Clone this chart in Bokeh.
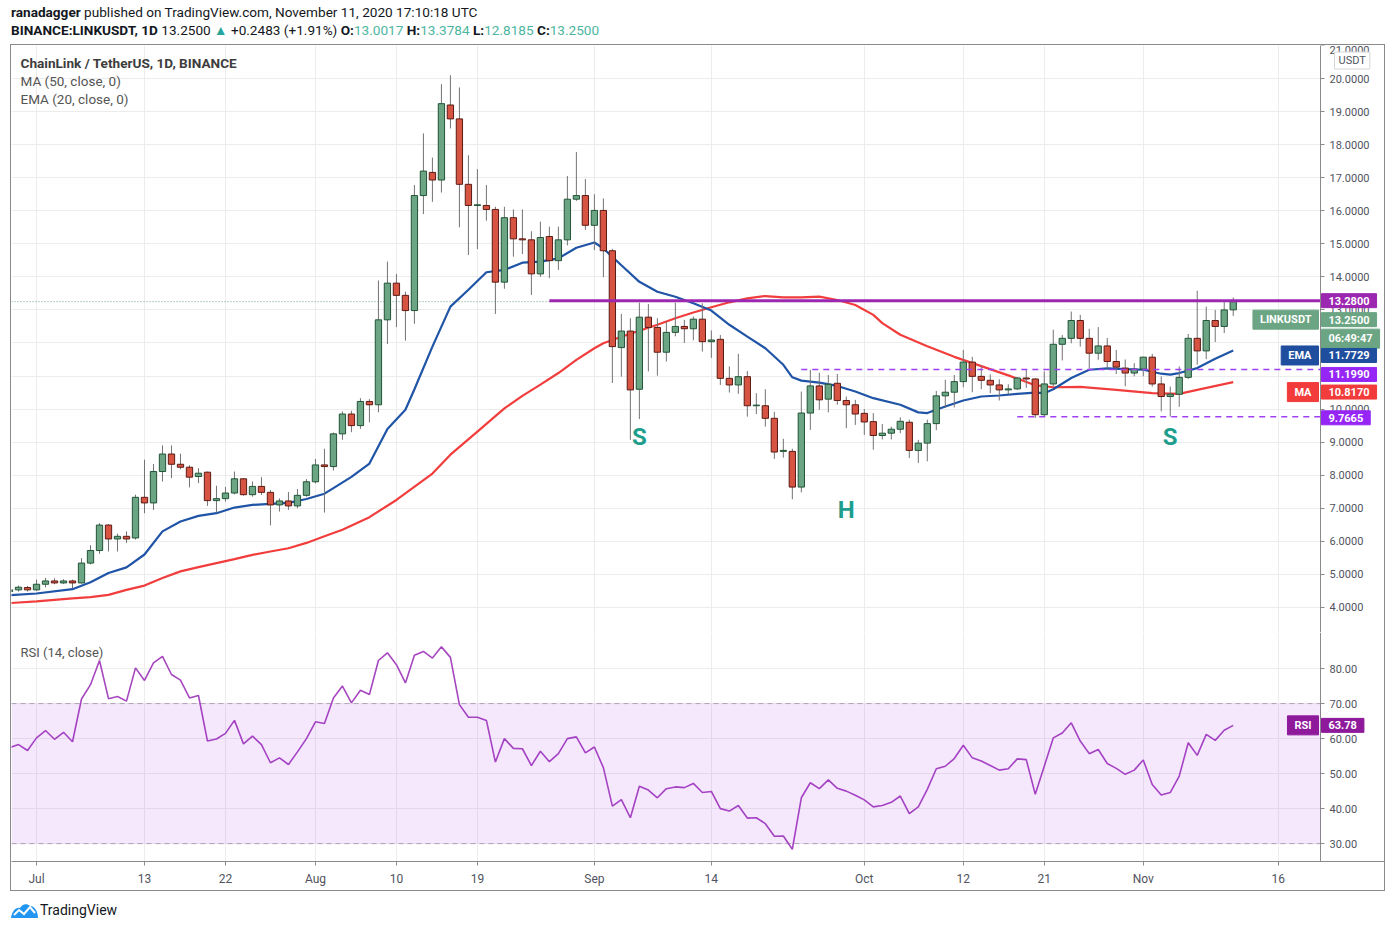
import pandas as pd
from bokeh.plotting import figure
from bokeh.layouts import column
from bokeh.models import (Range1d, FixedTicker, BoxAnnotation, Label, Div, LinearAxis,
                          ColumnDataSource, PrintfTickFormatter, Grid)
from bokeh.core.properties import value
from bokeh.embed import file_html
from bokeh.resources import INLINE

# ---------------- data ----------------
start_date = "2020-06-28"
opens = [
    4.48, 4.53, 4.60,
    4.53, 4.70, 4.80, 4.74, 4.80, 4.74, 5.34, 5.72, 6.49, 6.07, 6.15, 6.10, 7.33, 7.16, 8.11, 8.64,
    8.33, 8.24, 7.96, 8.09, 7.23, 7.29, 7.46, 7.89, 7.41, 7.66, 7.48, 7.10, 7.22, 7.07, 7.39,
    7.80, 8.31, 8.26, 9.25, 9.85, 9.50, 10.23, 10.13, 12.70, 13.81, 13.44, 12.98, 16.46, 17.16, 16.93,
    19.20, 18.78, 16.80, 16.16, 16.16, 16.04, 13.84, 15.79, 15.15, 15.12, 14.09, 15.22, 14.49, 15.12, 16.35, 16.46,
    15.56, 16.01, 14.79, 11.86, 12.36, 10.60, 12.78, 12.47, 11.72, 12.32, 12.50, 12.43, 12.72, 12.04, 12.11,
    10.93, 10.73, 10.98, 10.10, 10.10, 9.72, 8.72, 8.72, 7.64, 9.88, 10.70, 10.30, 10.78, 10.26, 10.13,
    9.87, 9.62, 9.20, 9.27, 9.39, 9.60, 8.75, 8.97, 9.56, 10.40, 10.51, 10.83, 11.42, 10.99, 10.87,
    10.73, 10.58, 10.61, 10.94, 10.91, 9.83, 10.76, 11.96, 12.14, 12.68, 12.14, 11.69, 11.91, 11.44, 11.24, 11.09,
    11.21, 11.57, 10.76, 10.38, 10.45, 10.96, 12.14, 11.76, 12.68, 12.50, 13.0017,
]
highs = [
    4.60, 4.66, 4.65,
    4.84, 4.89, 4.88, 4.85, 4.84, 5.49, 5.88, 6.55, 6.52, 6.23, 6.30, 7.41, 8.47, 8.34, 8.90, 8.90,
    8.65, 8.30, 8.21, 8.11, 7.68, 7.64, 8.11, 7.91, 7.81, 7.94, 7.55, 7.30, 7.49, 7.58, 7.88,
    8.49, 8.80, 9.29, 9.93, 9.95, 10.33, 10.30, 13.89, 14.46, 14.09, 13.55, 16.78, 18.34, 17.61, 19.83,
    20.10, 19.73, 17.68, 17.26, 16.78, 16.12, 16.12, 16.04, 16.04, 15.38, 15.67, 15.52, 15.52, 17.05, 17.78, 16.96,
    16.50, 16.37, 14.85, 12.88, 12.75, 13.22, 13.18, 12.75, 12.65, 13.22, 12.70, 12.80, 13.20, 12.38, 12.24,
    11.29, 11.67, 11.15, 10.48, 10.60, 9.92, 9.10, 8.80, 10.53, 11.19, 11.10, 11.03, 11.06, 10.38, 10.28,
    10.00, 9.88, 9.55, 9.47, 9.75, 9.68, 9.07, 9.68, 10.55, 10.89, 11.03, 11.79, 11.58, 11.32, 11.05,
    10.90, 10.75, 10.97, 11.21, 10.94, 11.14, 12.40, 12.24, 12.95, 12.85, 12.43, 12.48, 12.15, 11.79, 11.50, 11.39,
    11.58, 11.67, 10.99, 10.68, 11.29, 12.27, 13.58, 13.10, 13.00, 13.25, 13.3784,
]
lows = [
    4.40, 4.48, 4.48,
    4.50, 4.61, 4.70, 4.71, 4.58, 4.72, 5.30, 5.62, 5.69, 5.69, 5.95, 6.05, 6.85, 6.95, 7.81, 7.91,
    8.18, 7.63, 7.76, 7.07, 6.87, 7.20, 7.42, 7.38, 7.35, 7.40, 6.48, 6.90, 6.95, 7.00, 7.35,
    7.75, 6.87, 8.14, 9.07, 9.30, 9.40, 9.60, 9.90, 11.97, 12.48, 12.07, 12.58, 15.90, 16.27, 16.55,
    18.49, 15.50, 14.66, 14.84, 15.70, 12.88, 13.64, 14.61, 14.69, 13.45, 14.00, 13.96, 14.21, 14.95, 16.30, 15.42,
    14.81, 13.99, 10.79, 10.98, 9.07, 9.70, 11.14, 11.01, 11.44, 12.20, 12.00, 12.08, 11.74, 11.55, 10.73,
    10.50, 10.46, 9.77, 9.85, 9.47, 8.49, 8.53, 7.27, 7.48, 9.37, 9.98, 9.90, 10.13, 9.42, 9.52,
    9.22, 8.77, 9.08, 9.08, 9.27, 8.52, 8.37, 8.42, 9.36, 10.03, 10.05, 10.66, 10.51, 10.60, 10.48,
    10.26, 10.45, 10.58, 10.64, 9.73, 9.76, 10.70, 11.47, 11.99, 11.89, 11.23, 11.49, 11.21, 11.06, 10.69, 10.99,
    10.99, 10.68, 9.93, 9.77, 10.07, 10.91, 11.34, 11.51, 12.03, 12.30, 12.8185,
]
closes = [
    4.53, 4.61, 4.53,
    4.70, 4.80, 4.74, 4.80, 4.74, 5.34, 5.72, 6.49, 6.07, 6.15, 6.07, 7.33, 7.16, 8.11, 8.64, 8.33,
    8.24, 7.94, 8.06, 7.23, 7.29, 7.46, 7.89, 7.41, 7.66, 7.48, 7.10, 7.22, 7.07, 7.39, 7.80,
    8.31, 8.26, 9.25, 9.85, 9.50, 10.23, 10.13, 12.70, 13.81, 13.44, 12.98, 16.46, 17.20, 16.93, 19.24,
    18.78, 16.80, 16.16, 16.18, 16.04, 13.84, 15.79, 15.15, 15.12, 14.09, 15.19, 14.49, 15.12, 16.35, 16.46, 15.56,
    16.01, 14.79, 11.89, 12.36, 10.58, 12.78, 12.47, 11.72, 12.32, 12.50, 12.43, 12.72, 12.04, 12.09, 10.93,
    10.73, 10.98, 10.10, 10.12, 9.72, 8.70, 8.75, 7.64, 9.88, 10.70, 10.28, 10.75, 10.26, 10.13, 9.85,
    9.61, 9.20, 9.27, 9.39, 9.63, 8.75, 8.97, 9.56, 10.40, 10.51, 10.83, 11.42, 10.99, 10.87, 10.73,
    10.58, 10.61, 10.94, 10.91, 9.83, 10.76, 11.96, 12.14, 12.68, 12.14, 11.69, 11.91, 11.44, 11.27, 11.09, 11.21,
    11.57, 10.76, 10.38, 10.45, 10.96, 12.14, 11.76, 12.68, 12.50, 13.00, 13.25,
]
rsi_values = [
    57.4, 58.3, 56.6,
    60.2, 62.3, 59.8, 61.8, 59.1, 71.3, 75.4, 82.3, 71.4, 72.0, 70.7, 80.2, 76.6, 81.6, 83.5, 78.3,
    76.7, 71.6, 72.3, 59.3, 59.9, 61.5, 65.2, 58.5, 60.7, 58.3, 53.1, 54.5, 52.6, 56.2, 60.0,
    64.8, 64.3, 71.6, 75.0, 70.2, 73.8, 72.6, 82.3, 84.5, 81.1, 75.9, 83.8, 84.9, 83.0, 86.2,
    83.2, 69.7, 66.1, 66.1, 65.2, 53.3, 60.0, 57.2, 57.1, 52.3, 56.4, 53.4, 55.7, 60.0, 60.5, 55.9,
    57.6, 51.7, 40.7, 42.6, 37.4, 46.4, 45.3, 43.1, 45.7, 46.2, 46.0, 47.2, 44.6, 44.9, 40.0,
    39.3, 40.9, 37.3, 37.4, 35.7, 32.1, 32.2, 28.4, 43.1, 47.4, 45.7, 48.2, 45.8, 45.0, 43.8,
    42.5, 40.5, 40.9, 41.8, 43.6, 38.6, 40.5, 45.5, 51.4, 52.1, 54.3, 58.1, 54.5, 53.6, 52.3,
    51.0, 51.4, 54.2, 54.0, 44.1, 52.1, 60.2, 61.6, 64.5, 59.3, 55.7, 56.9, 52.9, 51.5, 49.8, 51.0,
    53.9, 46.9, 43.9, 44.6, 49.3, 58.8, 55.2, 61.2, 59.5, 62.4, 63.78,
]
ema_dates = ["2020-06-28", "2020-07-01", "2020-07-05", "2020-07-07", "2020-07-09", "2020-07-11",
             "2020-07-13", "2020-07-15", "2020-07-17", "2020-07-19", "2020-07-21", "2020-07-23",
             "2020-07-25", "2020-07-27", "2020-07-29", "2020-07-31", "2020-08-02", "2020-08-03",
             "2020-08-05", "2020-08-07", "2020-08-09", "2020-08-11", "2020-08-12", "2020-08-14",
             "2020-08-16", "2020-08-18", "2020-08-20", "2020-08-22", "2020-08-24", "2020-08-26",
             "2020-08-28", "2020-08-30", "2020-09-01", "2020-09-02", "2020-09-04", "2020-09-06",
             "2020-09-08", "2020-09-10", "2020-09-12", "2020-09-14", "2020-09-16", "2020-09-18",
             "2020-09-20", "2020-09-22", "2020-09-23", "2020-09-24", "2020-09-26", "2020-09-28",
             "2020-09-30", "2020-10-02", "2020-10-05", "2020-10-07", "2020-10-08", "2020-10-10",
             "2020-10-12", "2020-10-14", "2020-10-16", "2020-10-18", "2020-10-20", "2020-10-21",
             "2020-10-22", "2020-10-24", "2020-10-26", "2020-10-28", "2020-10-30", "2020-11-01",
             "2020-11-03", "2020-11-04", "2020-11-05", "2020-11-07", "2020-11-09", "2020-11-11"]
ema_values = [4.37, 4.42, 4.55, 4.76, 5.04, 5.21,
              5.60, 6.30, 6.60, 6.77, 6.85, 7.02,
              7.10, 7.13, 7.16, 7.28, 7.44, 7.61,
              7.95, 8.35, 9.40, 9.98, 10.60, 11.89,
              13.10, 13.61, 14.14, 14.21, 14.43, 14.46,
              14.56, 14.88, 15.04, 14.86, 14.35, 13.85,
              13.55, 13.40, 13.20, 12.98, 12.55, 12.19,
              11.84, 11.34, 10.96, 10.86, 10.80, 10.70,
              10.53, 10.33, 10.13, 9.90, 9.88, 10.08,
              10.26, 10.38, 10.41, 10.46, 10.50, 10.48,
              10.60, 10.94, 11.19, 11.23, 11.21, 11.19,
              11.07, 11.04, 11.09, 11.24, 11.52, 11.7729]
ma_dates = ["2020-06-28", "2020-07-01", "2020-07-05", "2020-07-07", "2020-07-09", "2020-07-11",
            "2020-07-13", "2020-07-15", "2020-07-17", "2020-07-19", "2020-07-21", "2020-07-23",
            "2020-07-25", "2020-07-27", "2020-07-29", "2020-07-31", "2020-08-02", "2020-08-04",
            "2020-08-07", "2020-08-10", "2020-08-14", "2020-08-16", "2020-08-19", "2020-08-22",
            "2020-08-24", "2020-08-26", "2020-08-28", "2020-08-30", "2020-09-01", "2020-09-02",
            "2020-09-04", "2020-09-06", "2020-09-08", "2020-09-10", "2020-09-12", "2020-09-14",
            "2020-09-16", "2020-09-18", "2020-09-20", "2020-09-22", "2020-09-24", "2020-09-26",
            "2020-09-28", "2020-09-30", "2020-10-02", "2020-10-03", "2020-10-05", "2020-10-08",
            "2020-10-11", "2020-10-14", "2020-10-17", "2020-10-20", "2020-10-22", "2020-10-25",
            "2020-10-29", "2020-11-02", "2020-11-05", "2020-11-07", "2020-11-11"]
ma_values = [4.13, 4.18, 4.27, 4.31, 4.38, 4.53,
             4.66, 4.89, 5.09, 5.22, 5.34, 5.46,
             5.59, 5.69, 5.79, 5.95, 6.15, 6.35,
             6.73, 7.25, 8.05, 8.62, 9.32, 10.02,
             10.40, 10.74, 11.09, 11.49, 11.84, 11.99,
             12.19, 12.37, 12.55, 12.75, 12.92, 13.08,
             13.23, 13.35, 13.42, 13.38, 13.38, 13.40,
             13.30, 13.15, 12.85, 12.60, 12.25, 11.90,
             11.58, 11.30, 11.02, 10.72, 10.66, 10.67,
             10.58, 10.48, 10.46, 10.58, 10.817]

x_tick_dates = ["2020-07-01", "2020-07-13", "2020-07-22", "2020-08-01", "2020-08-10", "2020-08-19",
                "2020-09-01", "2020-09-14", "2020-10-01", "2020-10-12", "2020-10-21", "2020-11-01",
                "2020-11-16"]
x_tick_labels = ["Jul", "13", "22", "Aug", "10", "19", "Sep", "14", "Oct", "12", "21", "Nov", "16"]
price_ticks = list(range(4, 22))
rsi_ticks = [30, 40, 50, 60, 70, 80]

resistance_level = 13.28
resistance_start = "2020-08-27"
support_levels = [11.199, 9.7665]
support_starts = ["2020-09-24", "2020-10-18"]
pattern_labels = ["S", "H", "S"]
pattern_dates = ["2020-09-06", "2020-09-29", "2020-11-04"]
pattern_prices = [9.14, 6.96, 9.14]
last_price = 13.25
ema_last, ma_last, rsi_last = 11.7729, 10.8170, 63.78

# ---------------- helpers ----------------
ORIGIN = pd.Timestamp("2020-07-01")


def day(d):
    return (pd.Timestamp(d) - ORIGIN).days


n = len(closes)
assert len(opens) == n and len(highs) == n and len(lows) == n and len(rsi_values) == n
dates = pd.date_range(start_date, periods=n, freq="D")
xs = [(d - ORIGIN).days for d in dates]

FONT = "Roboto"
FW = 1309          # width of the data area
AXW = 64           # width of the price-scale area (inside the frame)
FWT = FW + AXW
X0, XD = -2.78, 142.7                    # data area x extent (days from Jul 1)
XT = X0 + (XD - X0) * FWT / FW           # frame x extent incl. price scale
GRID = "#ececec"
EDGE = "#8a8a8a"
AXTXT = "#50535e"
UP_FILL, UP_LINE = "#6ba583", "#225437"
DN_FILL, DN_LINE = "#d75442", "#5b1a13"
x_tick_pos = [day(d) for d in x_tick_dates]
RSI_H, XAX_H = 229, 29
RSI_Y = (24.9, 90.3)

x_range = Range1d(X0, XT)


def style_axis(a, size="11px"):
    a.major_label_text_font = FONT
    a.major_label_text_font_size = size
    a.major_label_text_color = AXTXT
    a.axis_line_color = EDGE
    a.major_tick_line_color = EDGE
    a.major_tick_out = 4
    a.major_tick_in = 0
    a.minor_tick_out = 0
    a.minor_tick_in = 0


def base_fig(h, yr, bottom):
    f = figure(frame_width=FWT, frame_height=h, x_range=x_range, y_range=yr,
               x_axis_location="below" if bottom else None, y_axis_location=None,
               toolbar_location=None, output_backend="svg", min_border_left=0,
               min_border_right=0, min_border_top=0,
               min_border_bottom=XAX_H if bottom else 0,
               outline_line_color=None, background_fill_color="white",
               border_fill_color="white")
    f.xgrid.visible = False
    f.ygrid.visible = False
    return f


def tag(fig, y, text, bg, dy=0, side="right"):
    fig.add_layout(Label(
        x=(FW + 1) if side == "right" else (FW - 2), y=y, x_units="screen", y_units="data",
        y_offset=dy, text=text, text_color="white", text_font=FONT, text_font_size="11px",
        text_font_style="bold", text_baseline="middle",
        text_align="left" if side == "right" else "right",
        background_fill_color=bg, border_line_color=bg, padding=(7, 3)))


# ---------------- price pane ----------------
p = base_fig(587, Range1d(3.24, 21.0), False)
p.add_layout(Grid(dimension=0, ticker=FixedTicker(ticks=x_tick_pos), grid_line_color=GRID))
p.add_layout(Grid(dimension=1, ticker=FixedTicker(ticks=price_ticks), grid_line_color=GRID))
p.add_layout(BoxAnnotation(left=XD, fill_color="white", fill_alpha=1, line_alpha=0,
                           level="underlay"))

pax = LinearAxis(fixed_location=XD, ticker=FixedTicker(ticks=price_ticks),
                 formatter=PrintfTickFormatter(format="%.4f"), major_label_standoff=5)
style_axis(pax)
p.add_layout(pax, "right")
sep = LinearAxis(fixed_location=3.24, ticker=FixedTicker(ticks=[-100]),
                 major_label_text_font_size="0px", axis_line_color=EDGE,
                 major_tick_line_color=None, minor_tick_line_color=None)
p.add_layout(sep, "below")

p.segment(x0=[X0], y0=[last_price], x1=[XD], y1=[last_price], line_color=UP_FILL,
          line_dash="1 2", line_width=1)
p.line([day(d) for d in ma_dates], ma_values, line_color="#f23d3d", line_width=2.2)
p.line([day(d) for d in ema_dates], ema_values, line_color="#1f54a6", line_width=2.2)

up = [c >= o for o, c in zip(opens, closes)]
src = ColumnDataSource(dict(
    x=xs, high=highs, low=lows,
    top=[max(o, c) for o, c in zip(opens, closes)],
    bottom=[min(o, c) for o, c in zip(opens, closes)],
    fill=[UP_FILL if u else DN_FILL for u in up],
    edge=[UP_LINE if u else DN_LINE for u in up],
))
p.segment(x0="x", y0="high", x1="x", y1="low", line_color="#737375", line_width=1, source=src)
p.vbar(x="x", width=0.7, top="top", bottom="bottom", fill_color="fill", line_color="edge",
       line_width=1, source=src)

p.segment(x0=[day(resistance_start)], y0=[resistance_level], x1=[XD], y1=[resistance_level],
          line_color="#9c27b0", line_width=3)
p.segment(x0=[day(d) for d in support_starts], y0=support_levels,
          x1=[XD] * len(support_levels), y1=support_levels,
          line_color="#a040f5", line_width=1.5, line_dash="6 5")

p.text(x=[day(d) for d in pattern_dates], y=pattern_prices, text=pattern_labels,
       text_font=value(FONT), text_font_size="24px", text_font_style="bold",
       text_color="#1f9e8e", text_align="center", text_baseline="middle")

legend_lines = [("ChainLink / TetherUS, 1D, BINANCE", "#3d3d3d", "13.6px", "bold"),
                ("MA (50, close, 0)", "#555555", "13.5px", "normal"),
                ("EMA (20, close, 0)", "#555555", "13.5px", "normal")]
for i, (t, col, fs, fst) in enumerate(legend_lines):
    p.add_layout(Label(x=9, y=587 - 17 - 18 * i, x_units="screen", y_units="screen", text=t,
                       text_font=FONT, text_font_size=fs, text_font_style=fst, text_color=col,
                       text_baseline="middle"))

tag(p, resistance_level, "13.2800", "#9c27b0")
tag(p, last_price, "13.2500", UP_FILL, -18)
tag(p, last_price, "LINKUSDT", UP_FILL, -18, side="left")
tag(p, last_price, "06:49:47", UP_FILL, -37)
tag(p, ema_last, "11.7729", "#1f4e9e", -5)
tag(p, ema_last, "EMA", "#1f4e9e", -5, side="left")
tag(p, support_levels[0], "11.1990", "#9626f5", -5)
tag(p, ma_last, "10.8170", "#f23b3b", -10)
tag(p, ma_last, "MA", "#f23b3b", -10, side="left")
tag(p, support_levels[1], "9.7665", "#9626f5", -1)
p.add_layout(Label(x=FW + 14, y=587 - 15, x_units="screen", y_units="screen", text="USDT",
                   text_font=FONT, text_font_size="11px", text_color=AXTXT,
                   text_baseline="middle", background_fill_color="white",
                   border_line_color="#d6d6d6", padding=(4, 2)))

# ---------------- RSI pane ----------------
r = base_fig(RSI_H, Range1d(*RSI_Y), True)
r.add_layout(Grid(dimension=0, ticker=FixedTicker(ticks=x_tick_pos), grid_line_color=GRID))
r.add_layout(Grid(dimension=1, ticker=FixedTicker(ticks=rsi_ticks), grid_line_color=GRID))
r.add_layout(BoxAnnotation(left=XD, fill_color="white", fill_alpha=1, line_alpha=0,
                           level="underlay"))

ax = r.xaxis[0]
ax.ticker = FixedTicker(ticks=x_tick_pos)
ax.major_label_overrides = {pos: lab for pos, lab in zip(x_tick_pos, x_tick_labels)}
style_axis(ax, "12px")
ax.major_label_standoff = 6

rax = LinearAxis(fixed_location=XD, ticker=FixedTicker(ticks=rsi_ticks),
                 formatter=PrintfTickFormatter(format="%.2f"), major_label_standoff=5)
style_axis(rax)
# let the scale's separator line run down through the date-axis strip
units_per_px = (RSI_Y[1] - RSI_Y[0]) / RSI_H
rax.bounds = (RSI_Y[0] - XAX_H * units_per_px, RSI_Y[1])
r.add_layout(rax, "right")

r.add_layout(BoxAnnotation(bottom=30, top=70, right=XD, fill_color="#a020f0", fill_alpha=0.1,
                           line_alpha=0))
r.segment(x0=[X0, X0], y0=[30, 70], x1=[XD, XD], y1=[30, 70], line_color="#b0a8b4",
          line_dash="5 4", line_width=1)
r.line(xs, rsi_values, line_color="#a647bf", line_width=1.6)
r.add_layout(Label(x=9, y=RSI_H - 20, x_units="screen", y_units="screen",
                   text="RSI (14, close)", text_font=FONT, text_font_size="13px",
                   text_color="#555555", text_baseline="middle"))
tag(r, rsi_last, "63.78", "#8e1a9b")
tag(r, rsi_last, "RSI", "#8e1a9b", side="left")

# ---------------- page ----------------
VAL = "#4db6a0"
header = Div(width=1380, height=44, margin=(0, 0, 0, 0), text=(
    '<div style="position:relative;width:1380px;height:44px;font-family:Roboto;'
    'font-size:13.6px;color:#131722;line-height:18px;white-space:nowrap">'
    '<div style="position:absolute;left:3px;top:3px"><b>ranadagger</b> published on '
    'TradingView.com, November 11, 2020 17:10:18 UTC</div>'
    '<div style="position:absolute;left:3px;top:21px"><b>BINANCE:LINKUSDT, 1D</b> 13.2500 '
    '<span style="color:#26a69a">&#9650;</span> +0.2483 (+1.91%) '
    f'<b>O:</b><span style="color:{VAL}">13.0017</span> '
    f'<b>H:</b><span style="color:{VAL}">13.3784</span> '
    f'<b>L:</b><span style="color:{VAL}">12.8185</span> '
    f'<b>C:</b><span style="color:{VAL}">13.2500</span></div></div>'))

footer = Div(width=400, height=30, margin=(0, 0, 0, 0), text=(
    '<div style="position:relative;height:30px;font-family:Roboto;font-size:14px;'
    'color:#131722;white-space:nowrap">'
    '<svg style="position:absolute;left:3px;top:11px" width="27" height="16" viewBox="0 0 27 16">'
    '<path d="M0 16 C1 9 5 5 9 6 C11 2 16 1 19 4 C24 4 27 10 27 16 Z" fill="#2196f3"/>'
    '<polyline points="3,13 8,8 13,12 19,5 24,11" stroke="white" stroke-width="2" fill="none"/>'
    '</svg><div style="position:absolute;left:32px;top:10px;line-height:18px">TradingView</div>'
    '</div>'))

charts = column(p, r, spacing=0, margin=(0, 0, 0, 2),
                styles={"border": "1px solid #8a8a8a"})
page = column(header, charts, footer, spacing=0, margin=(0, 0, 0, 8))

open("out.html", "w").write(file_html(page, INLINE))
